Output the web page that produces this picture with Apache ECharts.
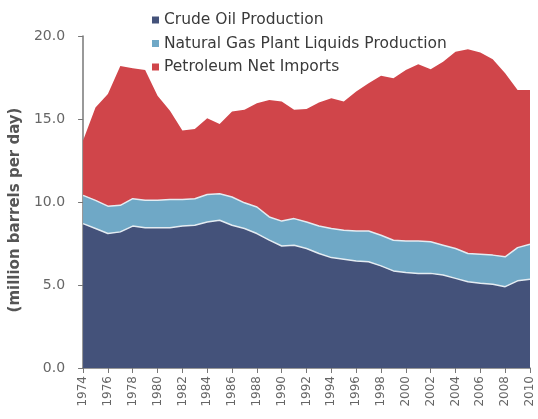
<!DOCTYPE html>
<html>
<head>
<meta charset="utf-8">
<script src="https://cdn.jsdelivr.net/npm/echarts@6/dist/echarts.min.js"></script>
<style>
html,body{margin:0;padding:0;background:#fff;}
#chart{width:538px;height:419px;}
</style>
</head>
<body>
<div id="chart"></div>
<script>
const years = ['1974','1975','1976','1977','1978','1979','1980','1981','1982','1983','1984','1985','1986','1987','1988','1989','1990','1991','1992','1993','1994','1995','1996','1997','1998','1999','2000','2001','2002','2003','2004','2005','2006','2007','2008','2009','2010'];
const crudeOil = [8.7,8.4,8.1,8.2,8.55,8.45,8.45,8.45,8.55,8.6,8.8,8.9,8.6,8.4,8.1,7.7,7.35,7.4,7.2,6.9,6.65,6.55,6.45,6.4,6.15,5.85,5.75,5.7,5.7,5.6,5.4,5.2,5.1,5.05,4.9,5.25,5.35];
const ngpl = [1.7,1.7,1.65,1.6,1.65,1.65,1.65,1.7,1.6,1.6,1.65,1.6,1.7,1.55,1.6,1.4,1.5,1.6,1.6,1.65,1.75,1.75,1.8,1.85,1.85,1.85,1.9,1.95,1.9,1.8,1.8,1.7,1.75,1.75,1.8,2.0,2.1];
const netImports = [3.3,5.6,6.75,8.4,7.85,7.85,6.3,5.35,4.15,4.2,4.6,4.2,5.15,5.6,6.25,7.05,7.2,6.55,6.8,7.45,7.85,7.75,8.4,8.9,9.6,9.75,10.3,10.65,10.4,11.05,11.85,12.3,12.15,11.8,11.05,9.5,9.3];
const seriesNames = ['Crude Oil Production','Natural Gas Plant Liquids Production','Petroleum Net Imports'];
const yTicks = [0,5,10,15,20];

const chart = echarts.init(document.getElementById('chart'), null, {renderer:'canvas'});
const font = '"DejaVu Sans", Arial, sans-serif';
function layer(name, data, color, lineW){
  return {
    name, type:'line', stack:'total', data, symbol:'none', smooth:false,
    lineStyle:{width:lineW, color:'#e4ecf2'},
    itemStyle:{color},
    areaStyle:{color, opacity:1},
    emphasis:{disabled:true}
  };
}
chart.setOption({
  animation:false,
  textStyle:{fontFamily:font},
  legend:{
    orient:'vertical', left:147, top:7, itemGap:7.5,
    itemWidth:7, itemHeight:7, icon:'rect',
    textStyle:{fontSize:15.5, color:'#3a3a3a', fontFamily:font},
    data:seriesNames
  },
  grid:{left:80, right:8, top:36, bottom:51, containLabel:false},
  xAxis:{
    type:'category', data:years, boundaryGap:false,
    axisLine:{lineStyle:{color:'#777', width:1.5}},
    axisTick:{show:true, length:5, interval:1, lineStyle:{color:'#777'}},
    axisLabel:{rotate:90, interval:1, fontSize:12, color:'#666', margin:8, fontFamily:font},
    splitLine:{show:false}
  },
  yAxis:{
    type:'value', min:yTicks[0], max:yTicks[yTicks.length-1], interval:5,
    name:'(million barrels per day)', nameLocation:'middle', nameGap:55,
    nameTextStyle:{fontSize:15, fontWeight:'bold', color:'#555', fontFamily:font, padding:[0,16,0,0]},
    axisLine:{show:true, lineStyle:{color:'#777', width:1.5}},
    axisTick:{show:true, length:5, lineStyle:{color:'#777'}},
    axisLabel:{fontSize:14, color:'#666', margin:18, fontFamily:font, formatter:v=>v.toFixed(1)},
    splitLine:{show:false}
  },
  series:[
    layer(seriesNames[0], crudeOil, '#44527a', 1.5),
    layer(seriesNames[1], ngpl, '#6fa8c6', 1.5),
    layer(seriesNames[2], netImports, '#d0454a', 0)
  ]
});
</script>
</body>
</html>
